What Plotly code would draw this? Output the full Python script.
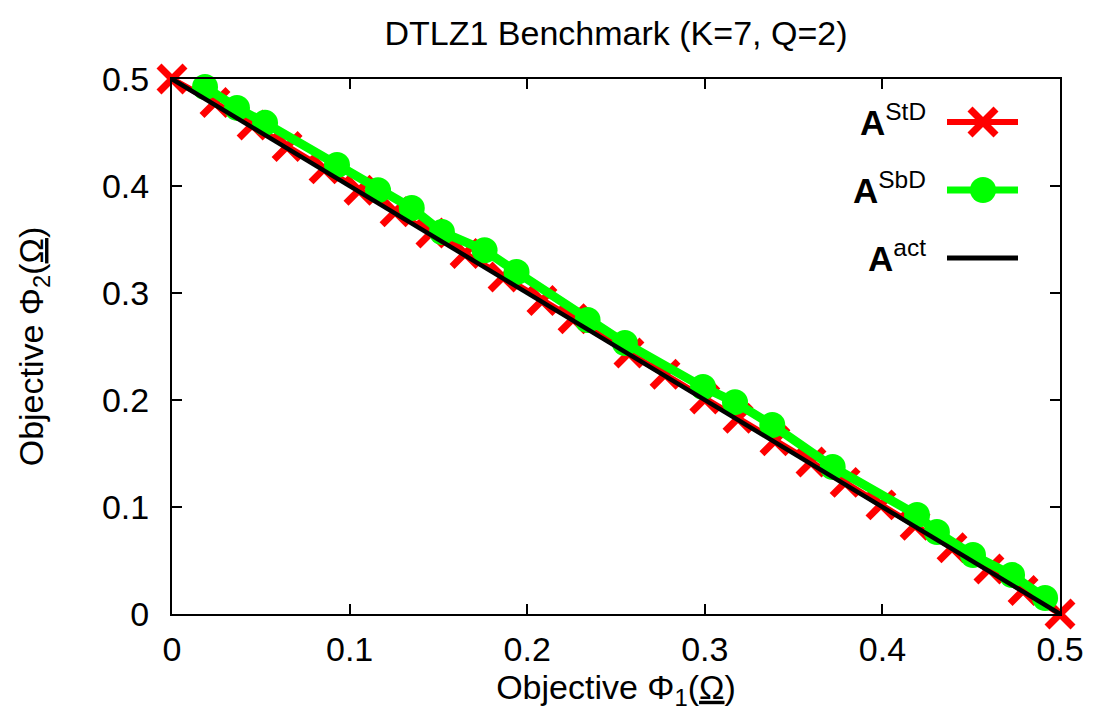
import plotly.graph_objects as go

# A^StD (red crosses)
std_x = [0, 0.0242, 0.0451, 0.0648, 0.0856, 0.1053, 0.1256, 0.1458, 0.165, 0.1864,
         0.2083, 0.2258, 0.2573, 0.2776, 0.300, 0.3187, 0.3395, 0.3598, 0.379, 0.3992,
         0.4184, 0.4392, 0.46, 0.4792, 0.5]
std_y = [0.5, 0.478, 0.457, 0.437, 0.416, 0.396, 0.376, 0.356, 0.337, 0.315,
         0.293, 0.276, 0.244, 0.224, 0.201, 0.183, 0.162, 0.142, 0.123, 0.102,
         0.083, 0.062, 0.042, 0.022, 0.0]

# A^SbD (green circles)
sbd_x = [0.0186, 0.0366, 0.0524, 0.0929, 0.116, 0.135, 0.152, 0.176, 0.194, 0.234,
         0.255, 0.299, 0.317, 0.338, 0.372, 0.4195, 0.4307, 0.451, 0.473, 0.4916]
sbd_y = [0.4925, 0.473, 0.459, 0.4196, 0.396, 0.3794, 0.357, 0.340, 0.3196, 0.2748,
         0.2533, 0.2121, 0.198, 0.1766, 0.1374, 0.0925, 0.0766, 0.0551, 0.0364, 0.0150]

# A^act (true front)
act_x = [0, 0.5]
act_y = [0.5, 0]

tick_vals = [0, 0.1, 0.2, 0.3, 0.4, 0.5]
tick_text = ["0", "0.1", "0.2", "0.3", "0.4", "0.5"]

FONT = "Liberation Sans, Arial, sans-serif"
RED = "#ff0000"
GREEN = "#00ff00"

fig = go.Figure()
fig.add_trace(go.Scatter(x=std_x, y=std_y, mode="lines+markers",
                         line=dict(color=RED, width=6),
                         marker=dict(symbol="x-thin", size=26, color=RED,
                                     line=dict(color=RED, width=7)),
                         cliponaxis=False, showlegend=False))
fig.add_trace(go.Scatter(x=sbd_x, y=sbd_y, mode="lines+markers",
                         line=dict(color=GREEN, width=9),
                         marker=dict(symbol="circle", size=26, color=GREEN,
                                     line=dict(width=0)),
                         cliponaxis=False, showlegend=False))
fig.add_trace(go.Scatter(x=act_x, y=act_y, mode="lines",
                         line=dict(color="black", width=4.5),
                         cliponaxis=False, showlegend=False))

axis_common = dict(range=[0, 0.5], tickvals=tick_vals, ticktext=tick_text,
                   ticks="inside", ticklen=10, tickwidth=1.5, tickcolor="black",
                   showline=True, linecolor="black", linewidth=2, mirror="ticks",
                   showgrid=False, zeroline=False,
                   tickfont=dict(family=FONT, size=34, color="black"))

fig.update_layout(
    width=1096, height=722,
    margin=dict(l=172, r=36, t=79, b=108),
    paper_bgcolor="white", plot_bgcolor="white",
    title=dict(text="DTLZ1 Benchmark (K=7, Q=2)", x=(172 + 1060) / 2 / 1096,
               xanchor="center", y=1 - 33 / 722, yanchor="middle",
               font=dict(family=FONT, size=34, color="black")),
    xaxis=dict(**axis_common, ticklabelstandoff=4,
               title=dict(text="Objective \u03a6<sub>1</sub>(<u>\u03a9</u>)",
                          font=dict(family=FONT, size=34, color="black"), standoff=8)),
    yaxis=dict(**axis_common, ticklabelstandoff=14,
               title=dict(text="Objective \u03a6<sub>2</sub>(<u>\u03a9</u>)",
                          font=dict(family=FONT, size=34, color="black"), standoff=48)),
)

# Manual legend (gnuplot style: label left of sample)
def px(x):
    return (x - 172) / 888

def py(y):
    return (614 - y) / 535

legend_rows = [
    ("<b>A</b><sup>StD</sup>", 122, RED, 6),
    ("<b>A</b><sup>SbD</sup>", 190, GREEN, 7),
    ("<b>A</b><sup>act</sup>", 258, "black", 5),
]
for label, yy, col, w in legend_rows:
    fig.add_annotation(x=px(928), y=py(yy - 2), xref="paper", yref="paper",
                       text=label, showarrow=False, xanchor="right", yanchor="middle",
                       font=dict(family=FONT, size=35, color="black"))
    fig.add_shape(type="line", xref="paper", yref="paper",
                  x0=px(947), x1=px(1018), y0=py(yy), y1=py(yy),
                  line=dict(color=col, width=w))

# legend marker glyphs
cx, cy = px(983), py(122)
for dx in (1, -1):
    fig.add_shape(type="line", xref="paper", yref="paper",
                  xsizemode="pixel", ysizemode="pixel", xanchor=cx, yanchor=cy,
                  x0=-13 * dx, x1=13 * dx, y0=-13, y1=13,
                  line=dict(color=RED, width=7))
fig.add_shape(type="circle", xref="paper", yref="paper",
              xsizemode="pixel", ysizemode="pixel", xanchor=px(983), yanchor=py(190),
              x0=-13, x1=13, y0=-13, y1=13,
              fillcolor=GREEN, line=dict(width=0))

fig.write_html("out.html")
